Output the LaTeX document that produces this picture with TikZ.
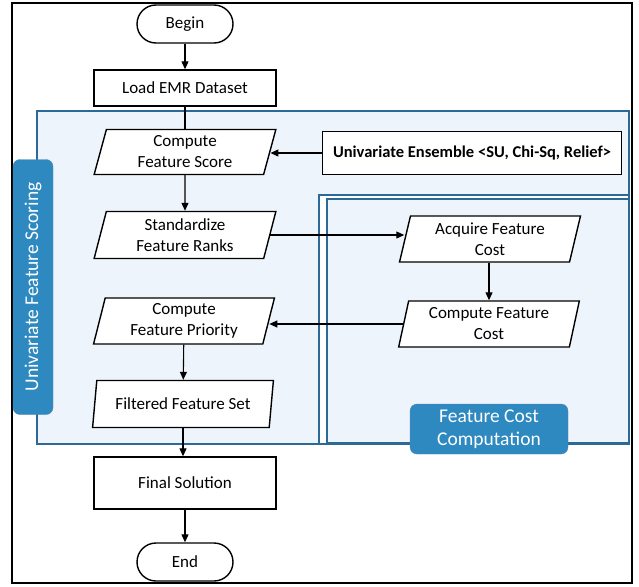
\documentclass[tikz,border=0pt]{standalone}
\usepackage{fontspec}
\setmainfont{Carlito}
\usetikzlibrary{shapes.geometric,arrows.meta}

\definecolor{zonefill}{RGB}{238,244,252}
\definecolor{zoneline}{RGB}{45,105,150}
\definecolor{tagfill}{RGB}{46,137,192}

\tikzset{
  box/.style={draw, line width=1.4pt, fill=white, font=\fontsize{17}{21}\selectfont, align=center, inner sep=2pt},
  iobox/.style={box, trapezium, trapezium left angle=78, trapezium right angle=102, trapezium stretches=true},
  termbox/.style={box, rounded corners=19pt, minimum width=96pt, minimum height=38pt},
  tag/.style={fill=tagfill, draw=zoneline!80, rounded corners=7pt, text=white, font=\fontsize{19.5}{23}\selectfont, align=center},
  arr/.style={-{Triangle[width=7pt,length=8pt]}, line width=1.1pt},
  zone/.style={draw=zoneline, line width=1.2pt},
}

\begin{document}
\begin{tikzpicture}[x=1pt, y=-1pt]
    \useasboundingbox (0,0) rectangle (639,586);

    % Cornice esterna
    \draw[line width=1.2pt] (12,3) rectangle (632,583);

    % Zona Univariate Feature Scoring
    \draw[zone, fill=zonefill] (37,111) rectangle (629,444);

    % Zona Feature Cost Computation
    \draw[zone, fill=white] (319,195) rectangle (629,444);
    \draw[zone, fill=zonefill] (327,199) rectangle (629,443);

    % Nodi colonna sinistra
    \node[termbox] (begin) at (185,24) {Begin};
    \node[box, minimum width=182pt, minimum height=36pt] (load) at (185,88) {Load EMR Dataset};
    \node[iobox, minimum width=182pt, minimum height=45pt] (score) at (185,152) {Compute\\Feature Score};
    \node[iobox, minimum width=182pt, minimum height=47pt] (std) at (185,235) {Standardize\\Feature Ranks};
    \node[iobox, minimum width=181pt, minimum height=46pt] (prio) at (184,321) {Compute\\Feature Priority};
    \node[iobox, minimum width=181pt, minimum height=47pt] (filt) at (183,404) {Filtered Feature Set};
    \node[box, minimum width=182pt, minimum height=52pt] (final) at (185,483) {Final Solution};
    \node[termbox] (end) at (185,562) {End};

    % Nodi colonna destra
    \node[box, font=\fontsize{16.5}{20}\selectfont\bfseries, minimum width=299pt, minimum height=43pt] (ens) at (472,153) {Univariate Ensemble <SU, Chi-Sq, Relief>};
    \node[iobox, minimum width=181pt, minimum height=46pt] (acq) at (490,239) {Acquire Feature\\Cost};
    \node[iobox, minimum width=181pt, minimum height=46pt] (cost) at (489,324) {Compute Feature\\Cost};

    % Etichette delle zone
    \node[tag, rotate=90, minimum width=255pt, minimum height=40pt] (scoringtag) at (33,287) {Univariate Feature Scoring};
    \node[tag, minimum width=158pt, minimum height=50pt, inner sep=1pt] (costtag) at (489,429) {Feature Cost\\Computation};

    % Connessioni
    \draw[arr] (begin) -- (load);
    \draw[line width=1.1pt] (load) -- (score);
    \draw[arr] (score) -- (std);
    \draw[arr] (ens.west) -- (score.east |- ens.west);
    \draw[arr] (std.east) -- (acq.west |- std.east);
    \draw[arr] (acq.south -| cost.north) -- (cost.north);
    \draw[arr] (cost.west) -- (prio.east |- cost.west);
    \draw[arr] (prio) -- (filt);
    \draw[arr] (filt.south) -- (filt.south |- final.north);
    \draw[arr] (final) -- (end);

\end{tikzpicture}
\end{document}
